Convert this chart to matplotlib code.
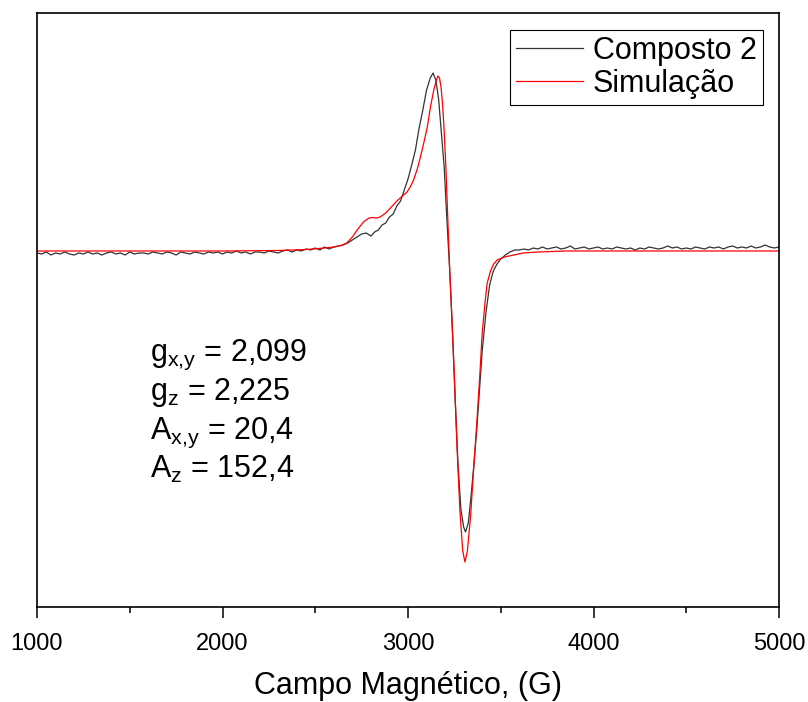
import matplotlib
matplotlib.use("Agg")
import matplotlib.pyplot as plt
from matplotlib.ticker import MultipleLocator, NullLocator

plt.rcParams['font.family'] = ['Liberation Sans', 'DejaVu Sans']
plt.rcParams['mathtext.fontset'] = 'custom'
plt.rcParams['mathtext.rm'] = 'Liberation Sans'
plt.rcParams['mathtext.it'] = 'Liberation Sans'

# ---- experimental spectrum (Composto 2) ----
field_exp = [1000, 1025, 1050, 1075, 1100, 1125, 1150, 1175, 1200, 1225, 1250, 1275, 1300, 1325, 1350,
             1375, 1400, 1425, 1450, 1475, 1500, 1525, 1550, 1575, 1600, 1625, 1650, 1675, 1700, 1725,
             1750, 1775, 1800, 1825, 1850, 1875, 1900, 1925, 1950, 1975, 2000, 2025, 2050, 2075, 2100,
             2125, 2150, 2175, 2200, 2225, 2250, 2275, 2300, 2325, 2350, 2375, 2400, 2425, 2450, 2475,
             2500, 2525, 2550, 2575, 2600, 2625, 2650,
             2675, 2700, 2725, 2750, 2775, 2800, 2820, 2840, 2860, 2880, 2900, 2920, 2940, 2960, 2980,
             3000, 3020, 3040, 3060, 3080, 3100, 3120, 3135, 3150, 3165, 3180, 3195, 3210, 3225, 3240,
             3255, 3270, 3285, 3300, 3310, 3325, 3340, 3355, 3370, 3385, 3400, 3420, 3440, 3460, 3480,
             3500, 3525, 3550, 3575,
             3600, 3625, 3650, 3675, 3700, 3725, 3750, 3775, 3800, 3825, 3850, 3875, 3900, 3925, 3950,
             3975, 4000, 4025, 4050, 4075, 4100, 4125, 4150, 4175, 4200, 4225, 4250, 4275, 4300, 4325,
             4350, 4375, 4400, 4425, 4450, 4475, 4500, 4525, 4550, 4575, 4600, 4625, 4650, 4675, 4700,
             4725, 4750, 4775, 4800, 4825, 4850, 4875, 4900, 4925, 4950, 4975, 5000]
signal_exp = [-2, -3, -1, -4, -2, -3, -1, -3, -4, -2, -3, -1, -3, -2, -4,
              -2, -1, -3, -2, -4, -1, -3, -2, -2, -3, -1, -2, -3, -1, -2,
              -4, -1, -2, -3, -1, -2, -3, -1, -2, -1, -3, -1, -2, 0, -2,
              -1, -3, -1, -1, -2, 0, -1, -2, 0, 1, -1, 1, 0, 2, 1,
              3, 1, 4, 2, 4, 5, 6,
              8, 11, 14, 17, 18, 15, 19, 21, 26, 28, 34, 37, 45, 50, 61,
              72, 86, 101, 123, 141, 161, 173, 178, 171, 152, 118, 84, 30, -20, -82,
              -152, -215, -258, -276, -281, -272, -245, -214, -180, -140, -100, -62, -34, -20, -13,
              -8, -4, -1, 1,
              1, 2, 1, 3, 2, 4, 2, 3, 4, 2, 3, 5, 2, 3, 4,
              2, 3, 4, 2, 3, 2, 4, 3, 2, 3, 1, 3, 2, 4, 3,
              2, 3, 5, 3, 4, 2, 3, 2, 4, 3, 2, 4, 3, 4, 2,
              4, 5, 3, 4, 3, 5, 3, 4, 6, 4, 3, 4]

# ---- simulated spectrum (Simulação) ----
field_sim = [1000, 2000, 2300, 2450, 2550, 2600, 2640, 2670, 2700, 2730, 2760, 2790, 2810, 2830, 2850,
             2880, 2910, 2940, 2970, 2995, 3015, 3030, 3050, 3067, 3085, 3104, 3121, 3139, 3150, 3161,
             3170, 3178, 3186, 3195, 3205, 3215, 3225, 3235, 3250, 3265, 3280, 3295, 3307, 3320, 3337,
             3355, 3373, 3390, 3400, 3415, 3427, 3445, 3462, 3481, 3520, 3570, 3620, 3700, 3850, 5000]
signal_sim = [0, 0, 0.5, 1.5, 3, 4, 5.5, 8, 14, 22, 29, 33, 33.5, 33, 34,
              38, 44, 50, 55, 59, 65, 71, 82, 94, 108, 124, 144, 161, 169, 175,
              173, 164, 148, 120, 80, 30, -20, -60, -125, -199, -260, -300, -311, -300, -266,
              -215, -166, -115, -82, -52, -32, -20, -13, -9, -6, -4, -2, -1, 0, 0]

labels = ['Composto 2', 'Simulação']
params = [r'$\mathregular{g_{x{,}y}}$ = 2,099', r'$\mathregular{g_{z}}$ = 2,225',
          r'$\mathregular{A_{x{,}y}}$ = 20,4', r'$\mathregular{A_{z}}$ = 152,4']

fig = plt.figure(figsize=(8.08, 7.02), dpi=100)
ax = fig.add_axes([37/808, 1-607/702, (779-37)/808, (607-13)/702])

ax.plot(field_exp, signal_exp, color='#333333', lw=0.9, label=labels[0])
ax.plot(field_sim, signal_sim, color='#ff0000', lw=0.9, label=labels[1])

ax.set_xlim(1000, 5000)
ax.set_ylim(-356, 238)
ax.xaxis.set_major_locator(MultipleLocator(1000))
ax.xaxis.set_minor_locator(MultipleLocator(500))
ax.yaxis.set_major_locator(NullLocator())
ax.tick_params(axis='x', which='major', direction='out', length=8, width=1.1, labelsize=17, pad=11)
ax.tick_params(axis='x', which='minor', direction='out', length=4, width=1.1)
for s in ax.spines.values():
    s.set_linewidth(1.2)
ax.set_xlabel('Campo Magnético, (G)', fontsize=22, labelpad=11)

ys = [0.414, 0.3485, 0.283, 0.217]
for t, y in zip(params, ys):
    ax.text(0.152, y, t, transform=ax.transAxes, fontsize=22, va='baseline', ha='left')

leg = ax.legend(loc='upper right', bbox_to_anchor=((763-37)/742, (607-30)/594), fontsize=22,
                frameon=True, fancybox=False, framealpha=1, edgecolor='black',
                handlelength=2.2, handletextpad=0.33, borderpad=0.2,
                labelspacing=0.1, borderaxespad=0)
leg.get_frame().set_linewidth(0.8)

fig.savefig('out.png', dpi=100)
